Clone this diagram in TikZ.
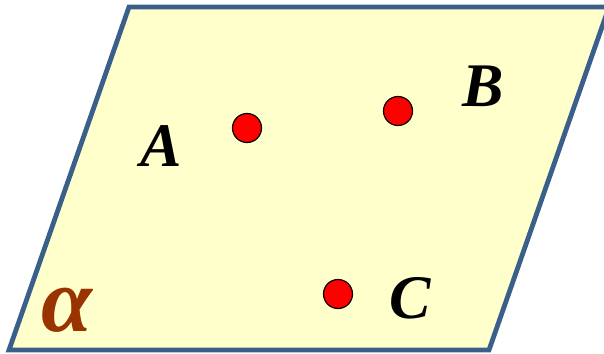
\documentclass[tikz,border=0pt]{standalone}
\usepackage{fontspec}
\setmainfont{Liberation Serif}
\definecolor{planefill}{HTML}{FFFFCC}
\definecolor{planeedge}{HTML}{3A5F8B}
\definecolor{alphacol}{HTML}{993300}
\begin{document}
\begin{tikzpicture}[x=1pt,y=-1pt,
  pt/.style={circle,fill=red,draw=black,line width=1.2pt,minimum size=29pt,inner sep=0pt},
  lbl/.style={font=\fontsize{62}{62}\selectfont\bfseries\itshape,inner sep=0pt}]
\path[use as bounding box] (0,0) rectangle (604,353);
\begin{scope}
\clip (0,0) rectangle (604,353);
\draw[fill=planefill,draw=planeedge,line width=4.8pt,line join=miter]
  (129,7) -- (609,7) -- (489,350) -- (9,350) -- cycle;
\end{scope}
\node[pt] (pA) at (247,128) {};
\node[pt] (pB) at (398,111) {};
\node[pt] (pC) at (338,294) {};
\node[lbl] (lA) at (161,146) {A};
\node[lbl] (lB) at (483,86) {B};
\node[lbl] (lC) at (410,298) {C};
\node[font=\fontsize{92}{92}\selectfont\bfseries\itshape,text=alphacol,inner sep=0pt] (al) at (67,310) {α};
\end{tikzpicture}
\end{document}
